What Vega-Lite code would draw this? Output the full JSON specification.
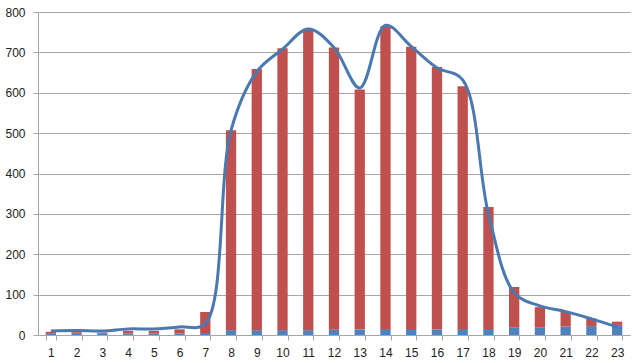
{
  "$schema": "https://vega.github.io/schema/vega-lite/v6.json",
  "width": 592,
  "height": 323,
  "autosize": "none",
  "padding": {"left": 38, "top": 12, "right": 9, "bottom": 28},
  "background": "white",
  "config": {
    "view": {"stroke": null},
    "font": "Liberation Sans",
    "axis": {"labelFont": "Liberation Sans", "labelFontSize": 12, "labelColor": "#222222", "domainColor": "#a6a6a6", "tickColor": "#a6a6a6", "gridColor": "#a6a6a6"}
  },
  "data": {
    "values": [
      {"h": 1, "blue": 3, "red": 5, "line": 10},
      {"h": 2, "blue": 3, "red": 4, "line": 11},
      {"h": 3, "blue": 3, "red": 3, "line": 10},
      {"h": 4, "blue": 4, "red": 6, "line": 15},
      {"h": 5, "blue": 4, "red": 6, "line": 15},
      {"h": 6, "blue": 4, "red": 10, "line": 20},
      {"h": 7, "blue": 5, "red": 52, "line": 28},
      {"h": 8, "blue": 12, "red": 495, "line": 507},
      {"h": 9, "blue": 12, "red": 647, "line": 652},
      {"h": 10, "blue": 12, "red": 698, "line": 708},
      {"h": 11, "blue": 12, "red": 745, "line": 758},
      {"h": 12, "blue": 13, "red": 699, "line": 712},
      {"h": 13, "blue": 14, "red": 594, "line": 612},
      {"h": 14, "blue": 15, "red": 750, "line": 767},
      {"h": 15, "blue": 15, "red": 699, "line": 715},
      {"h": 16, "blue": 14, "red": 650, "line": 662},
      {"h": 17, "blue": 15, "red": 601, "line": 632},
      {"h": 18, "blue": 15, "red": 302, "line": 300},
      {"h": 19, "blue": 18, "red": 101, "line": 105},
      {"h": 20, "blue": 19, "red": 50, "line": 72},
      {"h": 21, "blue": 21, "red": 37, "line": 58},
      {"h": 22, "blue": 22, "red": 19, "line": 40},
      {"h": 23, "blue": 25, "red": 8, "line": 20}
    ]
  },
  "encoding": {
    "x": {
      "field": "h", "type": "ordinal", "title": null,
      "scale": {"paddingInner": 0.6, "paddingOuter": 0.3},
      "axis": {"labelAngle": 0, "tickBand": "extent", "tickSize": 5, "labelPadding": 7, "grid": false}
    }
  },
  "layer": [
    {
      "transform": [{"fold": ["blue", "red"], "as": ["series", "value"]}],
      "mark": {"type": "bar"},
      "encoding": {
        "y": {
          "field": "value", "type": "quantitative", "stack": "zero", "title": null,
          "scale": {"domain": [0, 800]},
          "axis": {"values": [0, 100, 200, 300, 400, 500, 600, 700, 800], "tickSize": 5, "labelPadding": 8, "grid": true, "gridWidth": 1}
        },
        "color": {
          "field": "series", "type": "nominal", "legend": null,
          "scale": {"domain": ["blue", "red"], "range": ["#4f81bd", "#c0504d"]}
        },
        "order": {"field": "series", "sort": "ascending"}
      }
    },
    {
      "mark": {"type": "line", "interpolate": "catmull-rom", "color": "#4a78b0", "strokeWidth": 3},
      "encoding": {
        "y": {"field": "line", "type": "quantitative"}
      }
    }
  ]
}
